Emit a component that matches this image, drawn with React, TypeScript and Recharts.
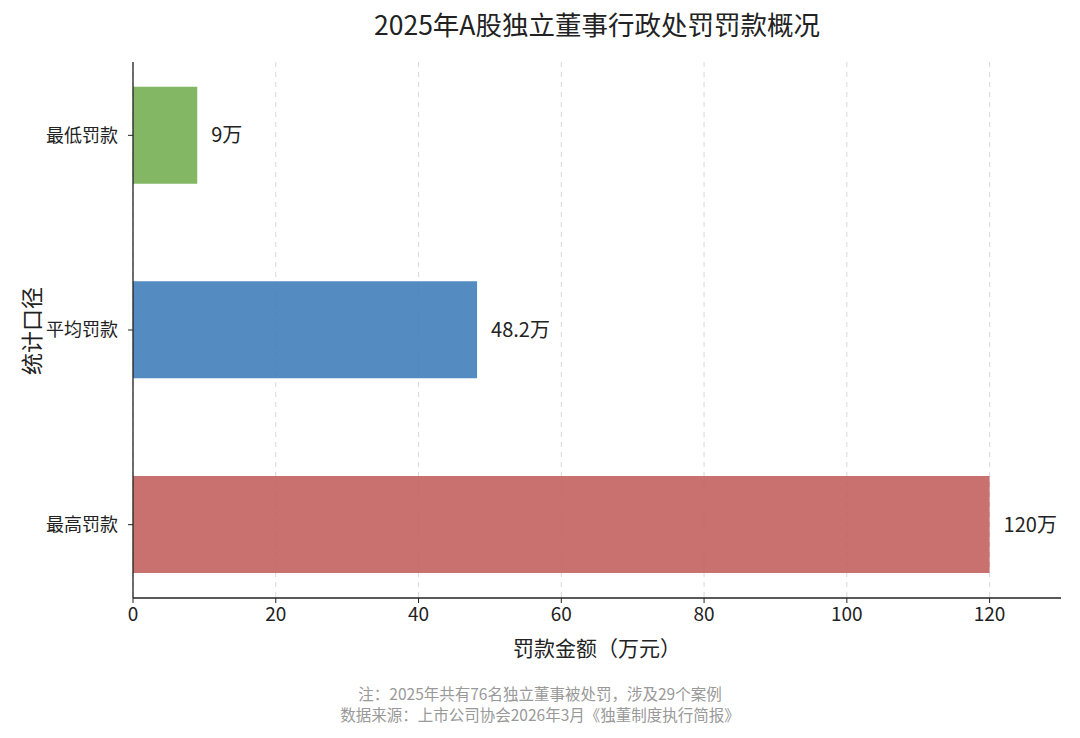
import { BarChart, Bar, XAxis, YAxis, CartesianGrid, LabelList, Cell } from 'recharts';

const categories = ['最低罚款', '平均罚款', '最高罚款'];
const fineValues = [9, 48.2, 120];
const barColors = ['#73ad4f', '#3c7cb9', '#c05d5a'];
const xTicks = [0, 20, 40, 60, 80, 100, 120];

const chartData = categories.map((name, i) => ({ name, value: fineValues[i] }));

const FONT = '"Noto Sans CJK SC", "Noto Sans", sans-serif';

export default function App() {
    return (
        <div style={{ position: 'absolute', left: 0, top: 0, width: 1080, height: 738, background: '#fff', fontFamily: FONT }}>
            <div style={{ position: 'absolute', left: 133, width: 928, top: 4, textAlign: 'center', fontSize: 26.5, color: '#222' }}>
                2025年A股独立董事行政处罚罚款概况
            </div>
            <BarChart
                width={1080}
                height={738}
                data={chartData}
                layout="vertical"
                margin={{ top: 62, right: 19, left: 33, bottom: 110 }}
                barCategoryGap="25%"
            >
                <CartesianGrid horizontal={false} strokeDasharray="5 5" stroke="#d9d9d9" syncWithTicks />
                <XAxis
                    type="number"
                    domain={[0, 130]}
                    ticks={xTicks}
                    height={30}
                    axisLine={{ stroke: '#222', strokeWidth: 1.3 }}
                    tickLine={{ stroke: '#222' }}
                    tickSize={5}
                    tickMargin={5}
                    tick={{ fill: '#222', fontSize: 19, fontFamily: FONT }}
                />
                <YAxis
                    type="category"
                    dataKey="name"
                    width={100}
                    padding={{ top: -24, bottom: -24 }}
                    axisLine={{ stroke: '#222', strokeWidth: 1.3 }}
                    tickLine={{ stroke: '#222' }}
                    tickSize={5}
                    tickMargin={10}
                    tick={{ fill: '#222', fontSize: 18, fontFamily: FONT }}
                />
                <Bar dataKey="value" isAnimationActive={false} fillOpacity={0.88}>
                    {chartData.map((entry, index) => (
                        <Cell key={`cell-${index}`} fill={barColors[index]} />
                    ))}
                    <LabelList
                        dataKey="value"
                        position="right"
                        offset={14}
                        formatter={(v: any) => `${v}万`}
                        style={{ fill: '#222', fontSize: 20, fontFamily: FONT }}
                    />
                </Bar>
            </BarChart>
            <div style={{ position: 'absolute', left: 133, width: 928, top: 632, textAlign: 'center', fontSize: 21, color: '#222' }}>
                罚款金额（万元）
            </div>
            <div
                style={{
                    position: 'absolute',
                    left: 30,
                    top: 331,
                    transform: 'translate(-50%, -50%) rotate(-90deg)',
                    fontSize: 22,
                    color: '#222',
                    whiteSpace: 'nowrap',
                }}
            >
                统计口径
            </div>
            <div style={{ position: 'absolute', left: 0, width: 1080, top: 683, textAlign: 'center', fontSize: 15.5, color: '#999', lineHeight: '21px' }}>
                <div style={{ height: 21 }}>注：2025年共有76名独立董事被处罚，涉及29个案例</div>
                <div style={{ height: 21 }}>数据来源：上市公司协会2026年3月《独董制度执行简报》</div>
            </div>
        </div>
    );
}
